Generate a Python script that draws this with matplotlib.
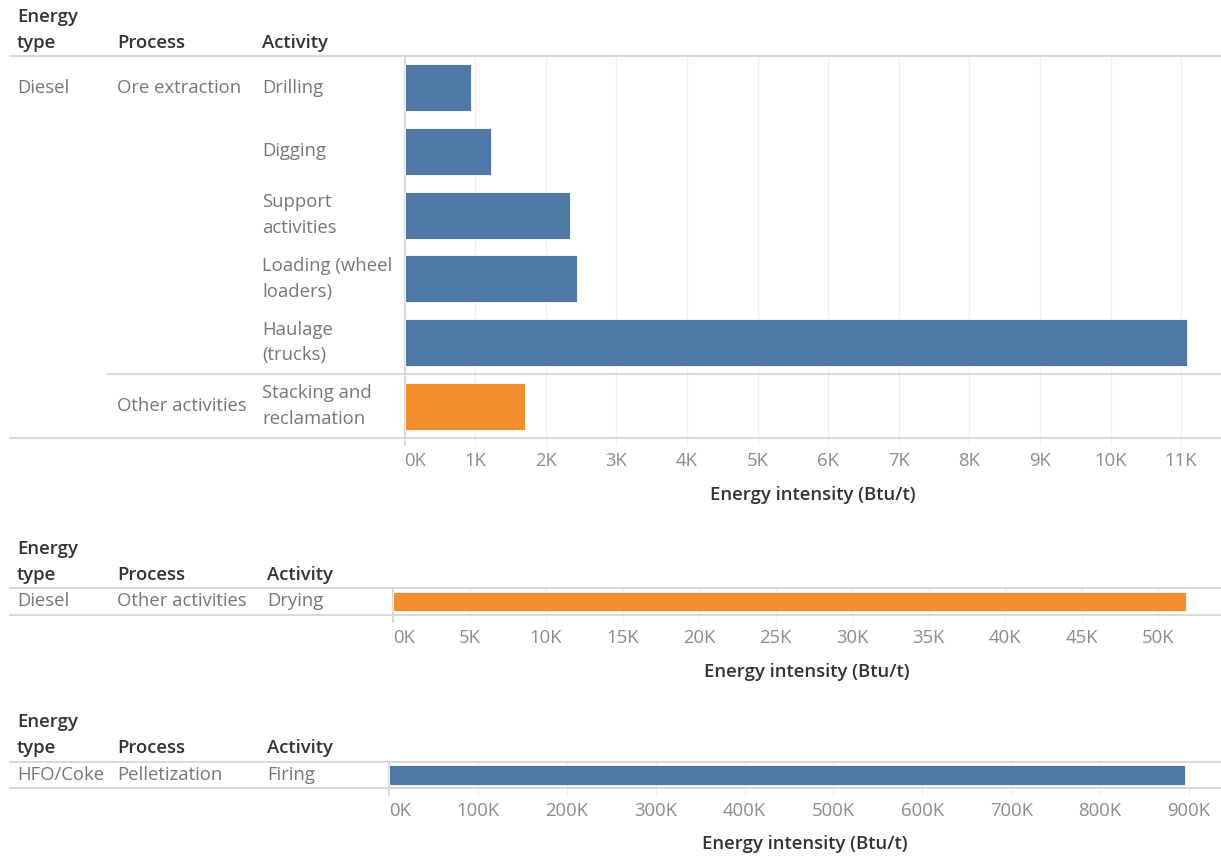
import matplotlib
matplotlib.use("Agg")
import matplotlib.pyplot as plt
import matplotlib.transforms as mtransforms
from matplotlib.ticker import FuncFormatter, MultipleLocator

plt.rcParams['font.family'] = ['Open Sans', 'DejaVu Sans']

# data
mining_energy = ["Diesel"] * 6
mining_process = ["Ore extraction"] * 5 + ["Other activities"]
mining_activity = ["Drilling", "Digging", "Support\nactivities", "Loading (wheel\nloaders)",
                   "Haulage\n(trucks)", "Stacking and\nreclamation"]
mining_values = [940, 1220, 2350, 2440, 11090, 1700]

drying_energy = ["Diesel"]
drying_process = ["Other activities"]
drying_activity = ["Drying"]
drying_values = [51800]

firing_energy = ["HFO/Coke"]
firing_process = ["Pelletization"]
firing_activity = ["Firing"]
firing_values = [896000]

process_colors = {"Ore extraction": "#4e79a7", "Pelletization": "#4e79a7",
                  "Other activities": "#f28e2b"}

W, H = 1221, 857
fig = plt.figure(figsize=(W / 100, H / 100), dpi=100)

HEAD = "#333333"
ROW = "#777777"
TICK = "#8c8c8c"
LINE = "#d6d6d6"
GRID = "#efefef"
FS = 13.3


def fx(px):
    return px / W


def fy(py):
    return 1 - py / H


def kfmt(v, pos):
    return f"{v / 1000:.0f}K"


def panel(top, bottom, left, energy, process, activity, values, xmax, step,
          head_y, act_x, title_y):
    n = len(values)
    ax = fig.add_axes([fx(left), fy(bottom), fx(W) - fx(left), fy(top) - fy(bottom)])
    rows = list(range(n))
    cols = [process_colors[p] for p in process]
    ax.barh(rows, values, height=0.74, color=cols, edgecolor="white", linewidth=0.6, zorder=3)
    ax.set_ylim(n - 0.5, -0.5)
    ax.set_xlim(0, xmax)
    ax.xaxis.set_major_locator(MultipleLocator(step))
    ax.xaxis.set_major_formatter(FuncFormatter(kfmt))
    ax.grid(axis="x", color=GRID, linewidth=1, zorder=0)
    ax.set_yticks([])
    for s in ["top", "right", "bottom"]:
        ax.spines[s].set_visible(False)
    ax.spines["left"].set_color(LINE)
    ax.spines["left"].set_linewidth(1.3)
    ax.tick_params(axis="x", length=5, color=GRID, labelcolor=TICK, labelsize=FS, pad=5)
    fig.canvas.draw()
    for tk in ax.xaxis.get_major_ticks():
        if abs(tk.get_loc()) < 1e-9:
            tk.label1.set_horizontalalignment("left")

    tr = mtransforms.blended_transform_factory(fig.transFigure, ax.transData)
    # horizontal lines
    for yv, x0 in [(-0.5, 10), (n - 0.5, 10)]:
        ax.plot([fx(x0), 1], [yv, yv], transform=tr, color=LINE, lw=1.3, clip_on=False, zorder=4)
    for i in range(1, n):
        if process[i] != process[i - 1]:
            ax.plot([fx(108), 1], [i - 0.5, i - 0.5], transform=tr, color=LINE, lw=1.3,
                    clip_on=False, zorder=4)
    # vertical axis line extends a bit below
    ax.plot([0, 0], [n - 0.5, n - 0.5 + 7 / ((bottom - top) / n)], color=LINE, lw=1.3,
            clip_on=False, zorder=4)

    # row labels
    for i in range(n):
        if i == 0 or energy[i] != energy[i - 1]:
            ax.text(fx(17), i, energy[i], transform=tr, va="center", ha="left",
                    color=ROW, fontsize=FS)
        if i == 0 or process[i] != process[i - 1]:
            ax.text(fx(117), i, process[i], transform=tr, va="center", ha="left",
                    color=ROW, fontsize=FS)
        ax.text(fx(act_x), i, activity[i], transform=tr, va="center", ha="left",
                color=ROW, fontsize=FS, linespacing=1.55)

    # headers
    fig.text(fx(17), fy(head_y - 26), "Energy", color=HEAD, fontsize=FS, va="center",
             fontweight="semibold")
    for x, t in [(17, "type"), (117, "Process"), (act_x, "Activity")]:
        fig.text(fx(x), fy(head_y), t, color=HEAD, fontsize=FS, va="center",
                 fontweight="semibold")
    fig.text((fx(left) + 1) / 2, fy(title_y), "Energy intensity (Btu/t)", color=HEAD,
             fontsize=FS, ha="center", va="center", fontweight="semibold")
    return ax


panel(56, 438, 404.5, mining_energy, mining_process, mining_activity, mining_values,
      11565, 1000, 43, 262, 495)
panel(588, 615, 393, drying_energy, drying_process, drying_activity, drying_values,
      54100, 5000, 575, 267, 672)
panel(762, 788, 389, firing_energy, firing_process, firing_activity, firing_values,
      936000, 100000, 748, 267, 844)

fig.savefig("out.png", dpi=100)
